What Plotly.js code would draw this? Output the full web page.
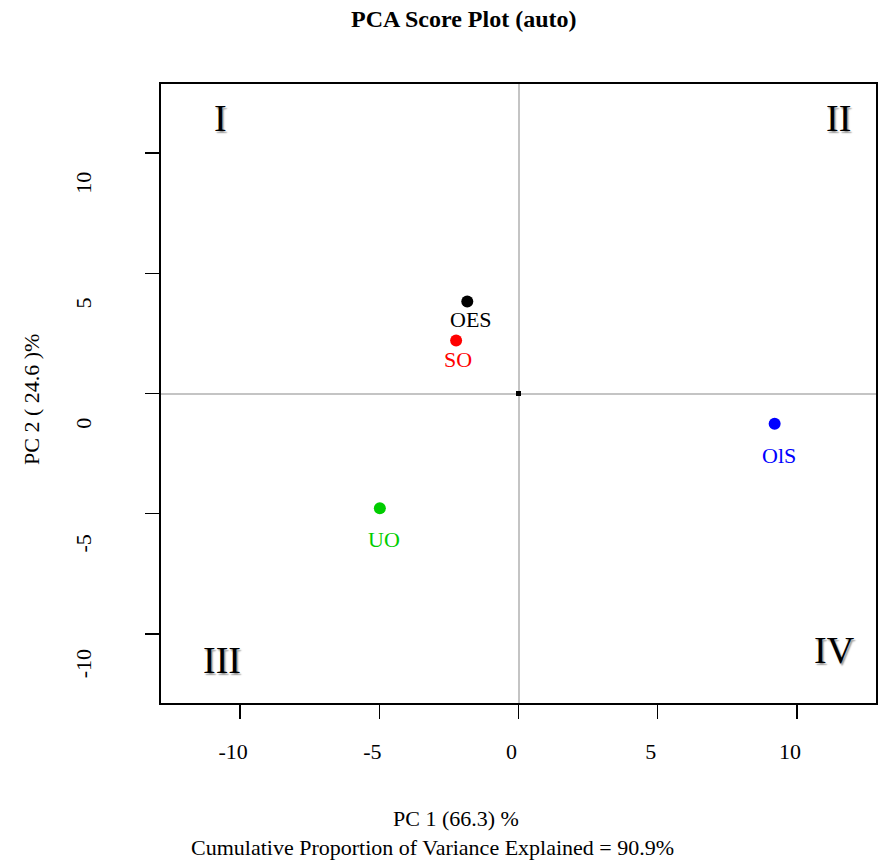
<!DOCTYPE html>
<html>
<head>
<meta charset="utf-8">
<script src="https://cdn.plot.ly/plotly-3.0.1.min.js"></script>
<style>
html,body{margin:0;padding:0;background:#fff;}
#chart{width:880px;height:862px;}
</style>
</head>
<body>
<div id="chart"></div>
<script>
// ---- data ----
const samples = ["OES", "SO", "OlS", "UO"];
const pc1 = [-1.84, -2.24, 9.20, -4.98];
const pc2 = [3.83, 2.20, -1.26, -4.77];
const sampleColors = ["#000000", "#ff0000", "#0000ff", "#00cd00"];
const tickValues = [-10, -5, 0, 5, 10];
const tickLabels = ["-10", "-5", "0", "5", "10"];
const quadrants = ["I", "II", "III", "IV"];
const originX = [0];
const originY = [0];

const FONT = "Liberation Serif, Times New Roman, serif";

// label placement (pixels, styling only)
const labelDx = [4, 2, 4, 4];
const labelDy = [-18, -19, -32, -31];

const traces = [
  {
    type: "scatter", mode: "markers",
    x: pc1, y: pc2, text: samples,
    marker: {size: 12, color: sampleColors},
    hoverinfo: "text+x+y", showlegend: false
  },
  {
    type: "scatter", mode: "markers",
    x: originX, y: originY,
    marker: {size: 5, symbol: "square", color: "#000000"},
    hoverinfo: "skip", showlegend: false
  }
];

const annotations = [];
samples.forEach((s, i) => {
  annotations.push({
    x: pc1[i], y: pc2[i], xref: "x", yref: "y",
    text: s, showarrow: false,
    xanchor: "center", yanchor: "middle",
    xshift: labelDx[i], yshift: labelDy[i],
    font: {family: FONT, size: 22, color: sampleColors[i]}
  });
});

// quadrant numerals (paper coords)
const qPos = [[0.0839, 0.9449], [0.9469, 0.9449], [0.0853, 0.0687], [0.9413, 0.0849]];
quadrants.forEach((q, i) => {
  annotations.push({
    x: qPos[i][0], y: qPos[i][1], xref: "paper", yref: "paper",
    text: q, showarrow: false, xanchor: "center", yanchor: "middle",
    font: {family: FONT, size: 38, color: "#000000", shadow: "1.5px 1.5px 1.5px #9a9a9a"}
  });
});

// axis titles
annotations.push({
  x: 0.4126, y: -0.1858, xref: "paper", yref: "paper",
  text: "PC 1 (66.3) %", showarrow: false, xanchor: "center", yanchor: "middle",
  font: {family: FONT, size: 22, color: "#000"}
});
annotations.push({
  x: 0.3804, y: -0.2342, xref: "paper", yref: "paper",
  text: "Cumulative Proportion of Variance Explained = 90.9%", showarrow: false,
  xanchor: "center", yanchor: "middle",
  font: {family: FONT, size: 22, color: "#000"}
});
annotations.push({
  x: -0.1804, y: 0.4895, xref: "paper", yref: "paper",
  text: "PC 2 ( 24.6 )%", showarrow: false, textangle: -90,
  xanchor: "center", yanchor: "middle",
  font: {family: FONT, size: 22, color: "#000"}
});

const axisCommon = {
  tickmode: "array", tickvals: tickValues, ticktext: tickLabels,
  ticks: "outside", ticklen: 14, tickwidth: 1.5, tickcolor: "#000",
  showline: true, linecolor: "#000", linewidth: 2, mirror: true,
  showgrid: false,
  zeroline: true, zerolinecolor: "#c4c4c4", zerolinewidth: 2,
  tickfont: {family: FONT, size: 22, color: "#000"},
  fixedrange: true
};

const layout = {
  width: 880, height: 862,
  margin: {l: 161, r: 4, t: 84, b: 159},
  paper_bgcolor: "#ffffff", plot_bgcolor: "#ffffff",
  title: {
    text: "<b>PCA Score Plot (auto)</b>",
    x: 0.527, xref: "container", xanchor: "center",
    y: 0.979, yref: "container", yanchor: "middle",
    font: {family: FONT, size: 24, color: "#000"}
  },
  xaxis: Object.assign({}, axisCommon, {
    range: [-12.84, 12.84],
    ticklabelstandoff: 14, ticklabelshift: -7
  }),
  yaxis: Object.assign({}, axisCommon, {
    range: [-12.87, 12.87],
    tickangle: -90,
    ticklabelstandoff: 45, ticklabelshift: 33
  }),
  annotations: annotations,
  showlegend: false
};

Plotly.newPlot("chart", traces, layout, {displayModeBar: false, staticPlot: true});
</script>
</body>
</html>
